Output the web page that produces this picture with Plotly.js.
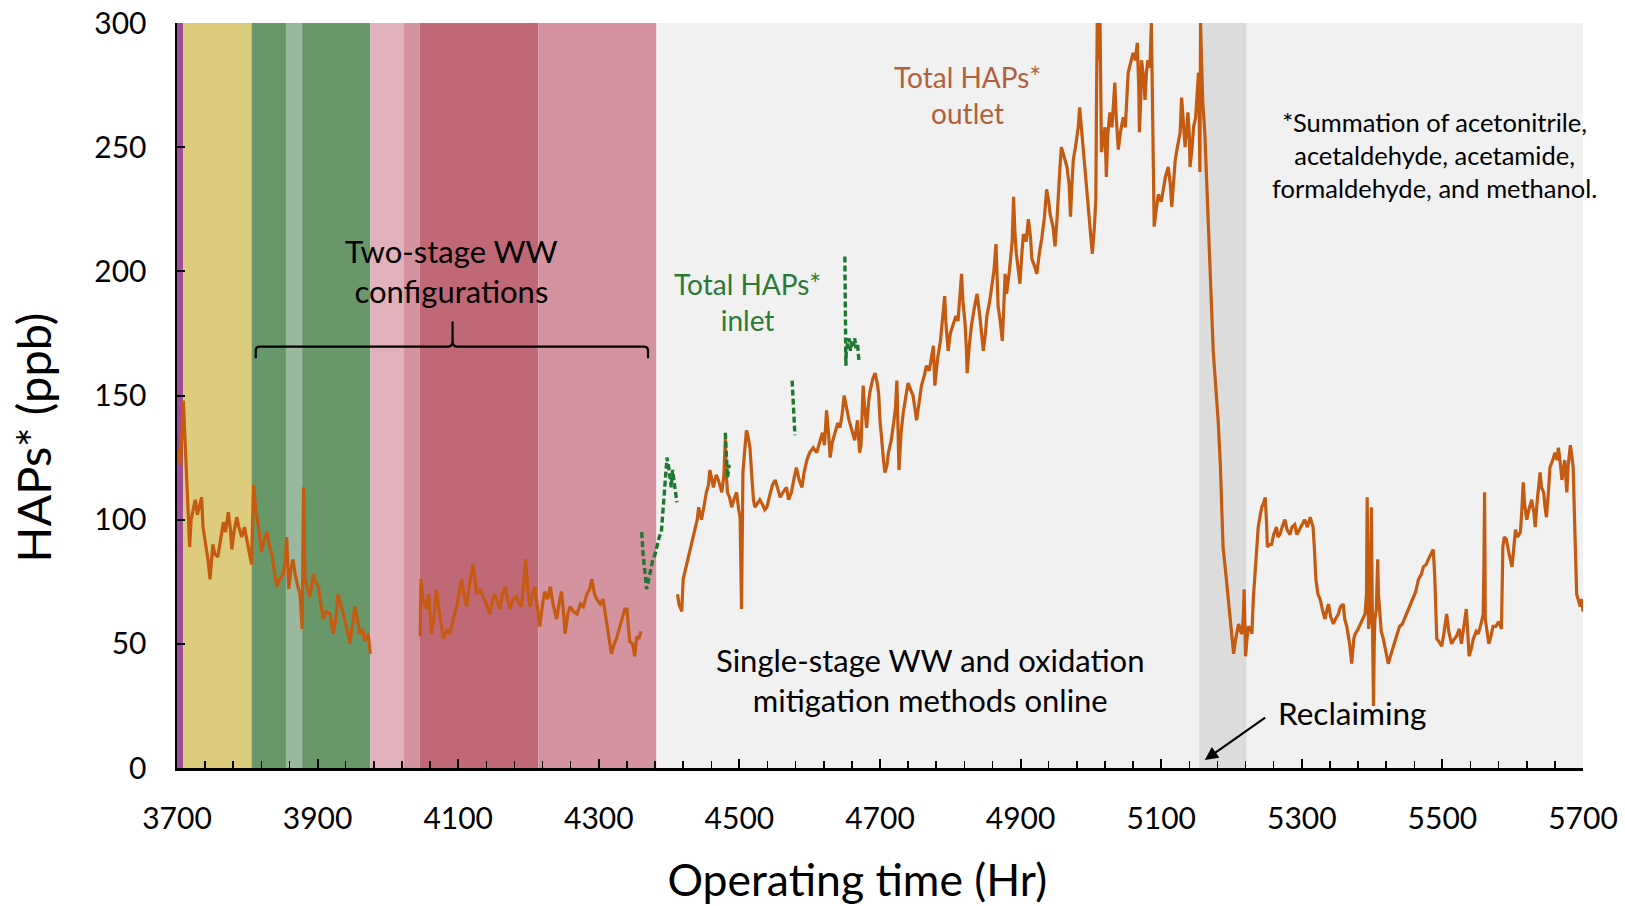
<!DOCTYPE html>
<html>
<head>
<meta charset="utf-8">
<script src="https://cdn.plot.ly/plotly-3.0.1.min.js"></script>
<style>html,body{margin:0;padding:0;background:#fff;}#chart{width:1625px;height:906px;}</style>
</head>
<body>
<div id="chart"></div>
<script>
// ---------- DATA ----------
// Total HAPs* outlet (ppb) vs operating time (Hr); null = gap in record
const outletHours = [
3700,3702,3705,3707,3709,3711,3714,3716,3718,3720,3723,3726,3729,3732,3735,3737,3740,3744,3747,3751,3754,3758,3762,3766,3769,3773,3776,3778,3781,3785,3788,3792,3796,3801,3804,3806,3809,3812,3816,3820,3824,3828,3831,3835,3838,3842,3846,3851,3854,3856,3859,3862,3865,3868,3872,3875,3878,3880,3882,3886,3889,3894,3897,3901,3905,3908,3912,3918,3922,3926,3929,3933,3937,3941,3946,3950,3953,3957,3960,3964,3967,3972,3975,
null,
4046,4047,4050,4055,4058,4062,4066,4069,4073,4079,4084,4088,4093,4098,4102,4105,4108,4112,4116,4121,4124,4126,4131,4136,4140,4145,4149,4152,4156,4159,4163,4167,4171,4174,4178,4183,4187,4190,4193,4196,4199,4202,4206,4209,4213,4216,4220,4223,4227,4231,4235,4240,4244,4247,4250,4252,4256,4259,4264,4269,4274,4278,4283,4287,4290,4294,4297,4302,4306,4310,4314,4318,4322,4325,4329,4333,4337,4340,4342,4344,4348,4351,4354,4357,4360,
null,
4412,4414,4418,4420,4425,4430,4434,4437,4440,4442,4446,4450,4453,4456,4458,4461,4463,4467,4470,4473,4475,4478,4480,4481,4483,4486,4489,4492,4496,4499,4501,4503,4504,4505,4507,4510,4512,4515,4518,4520,4522,4526,4529,4533,4536,4539,4543,4547,4551,4555,4558,4562,4567,4570,4574,4578,4581,4585,4589,4592,4596,4600,4605,4610,4615,4618,4621,4624,4627,4629,4632,4636,4640,4643,4646,4649,4652,4656,4660,4664,4668,4671,4673,4676,4678,4681,4684,4686,4690,4693,4696,4698,4700,4702,4705,4707,4710,4712,4716,4719,4722,4724,4726,4727,4730,4733,4737,4740,4744,4747,4750,4752,4756,4759,4763,4766,4770,4773,4776,4778,4782,4786,4789,4792,4794,4797,4800,4804,4808,4811,4814,4816,4818,4821,4823,4824,4827,4830,4834,4838,4842,4847,4850,4852,4856,4859,4862,4865,4867,4868,4871,4874,4876,4878,4880,4884,4888,4890,4892,4894,4897,4899,4902,4904,4908,4911,4914,4916,4920,4923,4927,4930,4934,4937,4940,4942,4946,4949,4952,4954,4956,4958,4962,4966,4969,4971,4973,4975,4978,4982,4984,4987,4989,4992,4996,4999,5002,5005,5007,5008,5009,5011,5013,5015,5017,5020,5022,5024,5027,5030,5034,5036,5039,5042,5046,5049,5053,5056,5060,5063,5066,5068,5069,5071,5072,5075,5077,5079,5081,5084,5086,5087,5088,5089,5090,5093,5096,5100,5103,5106,5110,5113,5115,5118,5120,5123,5127,5129,5131,5134,5136,5138,5140,5141,5144,5146,5149,5151,5153,5154,5155,5156,5157,5159,5162,5164,5167,5170,5174,5178,5181,5184,5188,5192,5195,5199,5203,5206,5210,5213,5215,5217,5218,5219,5220,5222,5224,5227,5229,5231,5234,5236,5238,5241,5243,5246,5248,5250,5251,5254,5257,5260,5264,5266,5269,5272,5276,5279,5283,5286,5290,5293,5297,5300,5304,5308,5312,5314,5316,5318,5320,5323,5326,5330,5333,5336,5338,5341,5345,5348,5352,5355,5359,5361,5364,5368,5371,5374,5376,5380,5383,5386,5390,5392,5393,5394,5395,5397,5398,5399,5400,5402,5403,5404,5406,5408,5409,5411,5413,5416,5420,5423,5426,5430,5434,5439,5443,5449,5453,5458,5462,5466,5470,5473,5477,5480,5484,5487,5489,5491,5492,5495,5499,5502,5506,5509,5513,5517,5520,5524,5527,5530,5534,5536,5538,5541,5544,5548,5551,5555,5558,5559,5560,5561,5563,5566,5569,5572,5576,5580,5584,5585,5586,5588,5591,5595,5599,5602,5604,5607,5611,5613,5615,5617,5620,5623,5627,5630,5632,5635,5639,5641,5644,5646,5648,5651,5653,5657,5660,5663,5665,5668,5670,5672,5674,5676,5677,5679,5682,5684,5686,5688,5689,5691,5693,5696,5698,5700];
const outletValues = [
125,128,122,140,148,135,112,100,89,100,104,108,102,106,109,97,92,84,76,90,86,85,92,99,95,103,96,88,95,101,97,93,97,89,86,82,114,104,97,87,92,95,90,86,80,73,76,78,84,93,72,80,84,78,73,70,56,113,76,72,69,78,75,73,66,60,63,62,54,60,70,66,62,57,50,58,65,59,54,56,51,54,46,
null,
53,76,68,64,70,54,62,72,63,52,56,54,60,65,72,76,70,65,74,82,76,70,72,69,66,62,68,70,66,64,70,73,67,64,68,69,66,65,74,84,72,65,70,73,64,57,66,71,68,73,66,60,67,71,62,54,62,65,63,62,66,65,70,72,76,70,68,66,68,60,54,46,50,52,56,60,64,64,56,51,50,45,53,52,55,
null,
70,66,63,76,82,88,92,96,100,105,100,106,111,114,120,116,113,118,116,113,111,118,133,120,111,109,105,108,111,104,101,64,104,119,126,136,134,129,116,108,105,107,108,106,104,105,110,114,116,112,109,111,113,108,111,117,121,116,113,119,124,127,129,127,132,135,130,144,134,125,131,135,139,137,142,150,145,140,136,132,140,127,130,154,146,137,148,152,157,159,155,151,140,132,124,119,122,127,132,138,145,156,138,120,135,143,150,155,152,150,144,140,148,154,158,162,160,166,170,154,165,172,180,190,178,168,175,179,182,180,190,199,188,179,168,159,170,178,185,191,182,168,175,182,188,194,200,211,195,186,180,172,185,199,191,200,212,230,215,207,200,195,208,215,212,221,214,205,202,199,208,213,222,233,228,223,218,210,222,234,242,250,246,242,235,222,235,245,250,258,266,256,250,240,229,218,207,218,229,270,300,285,300,248,253,258,238,255,264,258,276,262,249,256,262,258,280,283,288,285,292,275,256,270,285,278,269,280,285,282,300,280,258,235,218,225,231,228,234,238,242,235,226,238,245,250,256,270,260,250,256,264,255,242,250,258,262,269,280,265,240,300,285,269,256,240,222,195,168,152,140,123,89,78,69,58,46,52,58,55,54,62,72,58,45,52,57,56,54,68,82,92,97,102,105,107,109,98,89,90,90,94,97,93,94,97,100,96,94,97,98,94,96,98,100,97,101,99,97,88,76,70,68,63,60,64,66,61,58,60,62,65,66,60,57,50,42,52,54,56,58,60,62,70,109,80,56,62,80,105,70,25,50,60,64,84,70,60,55,52,46,42,45,49,52,57,58,62,65,68,71,76,78,81,82,84,86,88,78,60,52,51,49,54,62,55,50,52,53,56,50,56,64,55,45,48,52,55,54,58,62,80,111,60,55,50,53,57,57,59,56,70,89,93,92,86,81,90,96,93,95,104,115,106,100,104,108,103,97,108,119,113,111,105,101,112,121,124,127,124,129,122,116,120,124,115,111,122,130,126,121,100,87,70,68,65,68,63];

// Total HAPs* inlet (ppb), sparse record
const inletHours = [4361,4363,4366,4368,4371,4374,4377,4380,4383,4386,4389,4392,4395,4397,4399,4401,4403,4405,4407,4409,4411,null,4480,4481,4482,4483,4484,4485,4486,null,4575,4576,4577,4578,4579,null,4650,4650.3,4650.6,4651,4651.5,4652,4654,4656,4658,4660,4662,4664,4666,4668,4670];
const inletValues = [95,86,78,72,76,81,84,86,90,93,95,108,116,125,122,118,113,120,116,110,107,null,135,128,122,117,119,122,120,null,156,150,144,138,134,null,206,195,183,172,162,168,171,173,168,172,170,173,169,171,164];

// Operating phases (Hr)
const phaseStart = [3700,3709,3806,3855,3878,3975,4022,4045,4214,4382,5154];
const phaseEnd   = [3709,3806,3855,3878,3975,4022,4045,4214,4382,5700,5221];
const phaseName  = ["purple","yellow","green","lightgreen","green","lightpink","pink","darkpink","pink","online","reclaiming"];

const xTickValues = [3700,3900,4100,4300,4500,4700,4900,5100,5300,5500,5700];
const yTickValues = [0,50,100,150,200,250,300];

// ---------- STYLE ----------
const phaseColor = {
  purple:"#9e4b9b", yellow:"#ddcc7c", green:"#68986a", lightgreen:"#9bb89e",
  lightpink:"#e1b2bb", pink:"#d4939f", darkpink:"#c16877", online:"#f1f1f1", reclaiming:"#dcdcdc"
};
const FONT = "Lato, 'Open Sans', sans-serif";

const shapes = phaseStart.map((s,i)=>({
  type:"rect", xref:"x", yref:"paper", x0:s, x1:phaseEnd[i], y0:0, y1:1,
  fillcolor:phaseColor[phaseName[i]], line:{width:0}, layer:"below"
}));
// bracket over two-stage configurations
shapes.push({
  type:"path", xref:"x", yref:"y", layer:"above",
  path:"M 3812,165 L 3812,168.2 Q 3812,169.7 3818,169.7 L 4086,169.7 Q 4092,169.7 4092,172 L 4092,179.8 M 4092,172 Q 4092,169.7 4098,169.7 L 4364,169.7 Q 4370,169.7 4370,168.2 L 4370,165",
  line:{color:"#000000", width:2.2}
});

const traces = [
  {x:outletHours, y:outletValues, type:"scatter", mode:"lines", name:"Total HAPs* outlet",
   line:{color:"#c55a11", width:3.2}, connectgaps:false, hoverinfo:"x+y"},
  {x:inletHours, y:inletValues, type:"scatter", mode:"lines", name:"Total HAPs* inlet",
   line:{color:"#1e7832", width:3.4, dash:"6px,3px"}, connectgaps:false, hoverinfo:"x+y"}
];

const NB = "&nbsp;";
const annotations = [
  {x:4090, y:200, xref:"x", yref:"y", text:"Two-stage WW<br>configurations", showarrow:false,
   font:{family:FONT, size:31, color:"#000"}, align:"center"},
  {x:4512, y:187.5, xref:"x", yref:"y", text:"Total HAPs*<br>inlet", showarrow:false,
   font:{family:FONT, size:28, color:"#2a7a35"}, align:"center"},
  {x:4825, y:271, xref:"x", yref:"y", text:"Total HAPs*<br>outlet", showarrow:false,
   font:{family:FONT, size:28, color:"#b0603c"}, align:"center"},
  {x:5489, y:247, xref:"x", yref:"y", text:"*Summation of acetonitrile,<br>acetaldehyde, acetamide,<br>formaldehyde, and methanol.", showarrow:false,
   font:{family:FONT, size:25.5, color:"#000"}, align:"center"},
  {x:4771, y:35.6, xref:"x", yref:"y", text:"Single-stage WW and oxidation<br>mitigation methods online", showarrow:false,
   font:{family:FONT, size:31, color:"#000"}, align:"center"},
  {x:5371, y:22, xref:"x", yref:"y", text:"Reclaiming", showarrow:false,
   font:{family:FONT, size:31.5, color:"#000"}},
  {x:5162, y:3.2, xref:"x", yref:"y", ax:5250, ay:20.7, axref:"x", ayref:"y", text:"", showarrow:true,
   arrowhead:2, arrowsize:1.2, arrowwidth:2.2, arrowcolor:"#000"}
];

const layout = {
  width:1625, height:906,
  margin:{l:177, r:42, t:23, b:138},
  paper_bgcolor:"#ffffff", plot_bgcolor:"#ffffff",
  showlegend:false,
  font:{family:FONT, color:"#000"},
  xaxis:{
    range:[3700,5700], tickmode:"array", tickvals:xTickValues, ticktext:xTickValues.map(String),
    showgrid:false, zeroline:false, showline:true, linecolor:"#000", linewidth:2.5,
    ticks:"inside", ticklen:9, tickwidth:2, tickcolor:"#000",
    minor:{dtick:40, tick0:3700, ticks:"inside", ticklen:7, tickwidth:1.5, tickcolor:"#000", showgrid:false},
    tickfont:{family:FONT, size:30, color:"#000"}, ticklabelstandoff:22,
    title:{text:"Operating time (Hr)" + NB.repeat(4), font:{family:FONT, size:44.5, color:"#000"}, standoff:32}
  },
  yaxis:{
    range:[0,300], tickmode:"array", tickvals:yTickValues,
    showgrid:false, zeroline:false, showline:true, linecolor:"#000", linewidth:2.5,
    ticks:"inside", ticklen:8, tickwidth:2, tickcolor:"#000",
    tickfont:{family:FONT, size:30, color:"#000"}, ticklabelstandoff:22,
    title:{text:"HAPs* (ppb)" + NB.repeat(7), font:{family:FONT, size:47, color:"#000"}, standoff:28}
  },
  shapes:shapes, annotations:annotations
};

Plotly.newPlot("chart", traces, layout, {displayModeBar:false, staticPlot:true});
</script>
</body>
</html>
